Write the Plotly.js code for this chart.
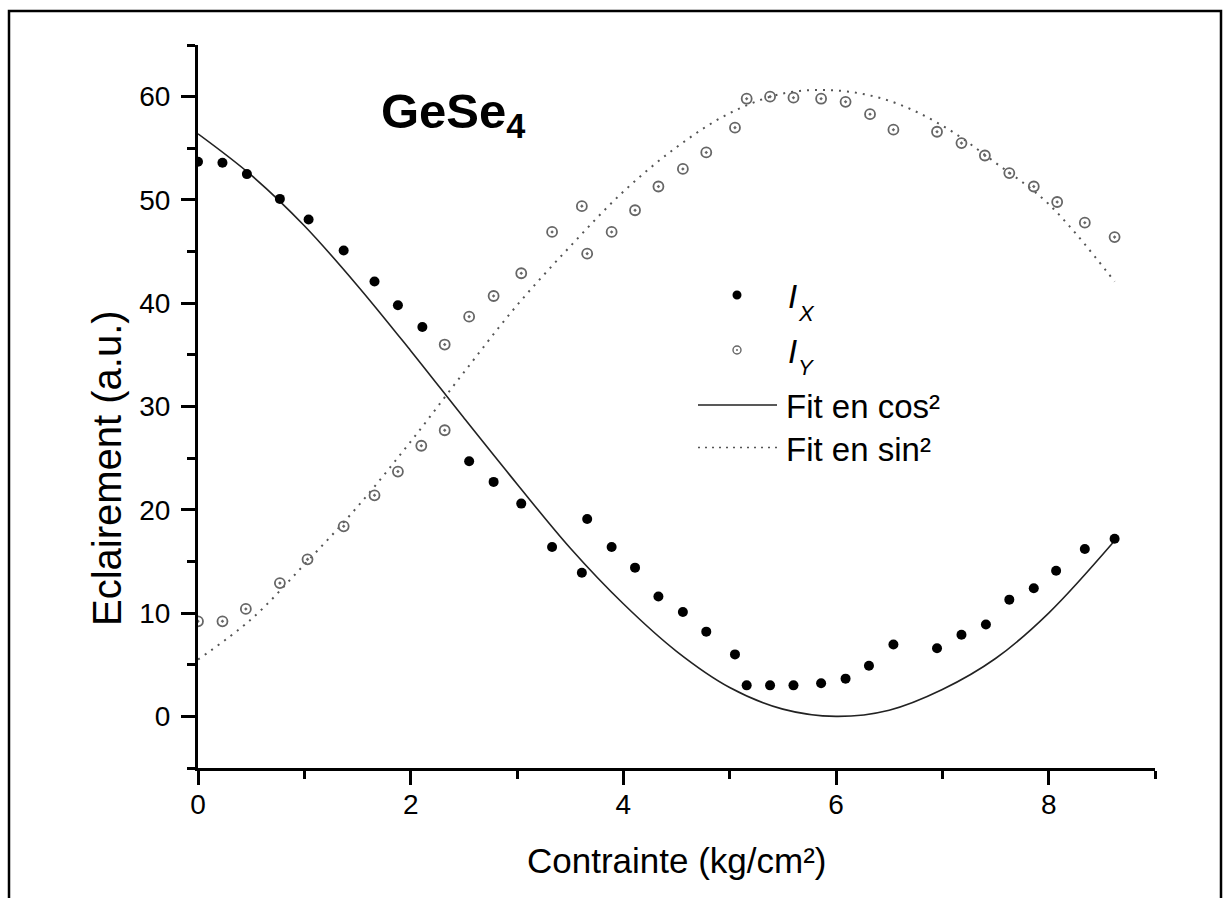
<!DOCTYPE html>
<html>
<head>
<meta charset="utf-8">
<script src="https://cdn.plot.ly/plotly-3.0.1.min.js"></script>
<style>
  html, body { margin: 0; padding: 0; background: #ffffff; }
  #chart { width: 1229px; height: 898px; }
</style>
</head>
<body>
<div id="chart"></div>
<script>
// ---- Data ----
const ixX = [0, 0.23, 0.46, 0.77, 1.04, 1.37, 1.66, 1.88, 2.11, 2.55, 2.78, 3.04, 3.33, 3.61, 3.66, 3.89, 4.11, 4.33, 4.56, 4.78, 5.05, 5.16, 5.38, 5.60, 5.86, 6.09, 6.31, 6.54, 6.95, 7.18, 7.41, 7.63, 7.86, 8.07, 8.34, 8.62];
const ixY = [53.7, 53.6, 52.5, 50.1, 48.1, 45.1, 42.1, 39.8, 37.7, 24.7, 22.7, 20.6, 16.4, 13.9, 19.1, 16.4, 14.4, 11.6, 10.1, 8.2, 6.0, 3.0, 3.0, 3.0, 3.2, 3.65, 4.9, 6.95, 6.6, 7.9, 8.9, 11.3, 12.4, 14.1, 16.2, 17.2];

const iyX = [0, 0.23, 0.45, 0.77, 1.03, 1.37, 1.66, 1.88, 2.10, 2.32, 2.32, 2.55, 2.78, 3.04, 3.33, 3.61, 3.66, 3.89, 4.11, 4.33, 4.56, 4.78, 5.05, 5.16, 5.38, 5.60, 5.86, 6.09, 6.32, 6.54, 6.95, 7.18, 7.40, 7.63, 7.86, 8.08, 8.34, 8.62];
const iyY = [9.2, 9.2, 10.4, 12.9, 15.2, 18.4, 21.4, 23.7, 26.2, 27.7, 36.0, 38.7, 40.7, 42.9, 46.9, 49.4, 44.8, 46.9, 49.0, 51.3, 53.0, 54.6, 57.0, 59.8, 60.0, 59.9, 59.8, 59.5, 58.3, 56.8, 56.6, 55.5, 54.3, 52.6, 51.3, 49.8, 47.8, 46.4];

const fitX   = [0, 0.5, 1, 1.5, 2, 2.5, 3, 3.5, 4, 4.5, 5, 5.5, 6, 6.5, 7, 7.5, 8, 8.62];
const cosFit = [56.4, 52.4, 47.5, 41.7, 35.4, 28.9, 22.5, 16.3, 10.9, 6.3, 2.8, 0.7, 0, 0.6, 2.6, 5.6, 10.0, 17.0];
const sinFit = [5.5, 9.4, 14.7, 20.3, 26.6, 33.3, 39.8, 45.5, 50.8, 55.1, 58.4, 60.3, 60.6, 59.6, 57.2, 53.6, 49.6, 42.1];

const xTickVals = [0, 2, 4, 6, 8];
const xTickText = ['0', '2', '4', '6', '8'];
const yTickVals = [0, 10, 20, 30, 40, 50, 60];
const yTickText = ['0', '10', '20', '30', '40', '50', '60'];

const chartTitle = 'GeSe<sub>4</sub>';
const xTitle = 'Contrainte (kg/cm²)';
const yTitle = 'Eclairement (a.u.)';
const legendNames = ['I', 'X', 'I', 'Y', 'Fit en cos²', 'Fit en sin²'];

// ---- Layout helpers (pixel -> paper) ----
const W = 1229, H = 898;
const M = { l: 198, r: 74, t: 45, b: 130 };
const PW = W - M.l - M.r, PH = H - M.t - M.b;
const px = v => (v - M.l) / PW;
const py = v => (H - M.b - v) / PH;
const FONT = 'Arial, "Liberation Sans", sans-serif';

const traces = [
  { x: fitX, y: cosFit, type: 'scatter', mode: 'lines', name: 'Fit en cos²',
    line: { color: '#222', width: 1.6, shape: 'spline', smoothing: 1 }, hoverinfo: 'skip' },
  { x: fitX, y: sinFit, type: 'scatter', mode: 'lines', name: 'Fit en sin²',
    line: { color: '#555', width: 2, shape: 'spline', smoothing: 1, dash: '2px,6px' }, hoverinfo: 'skip' },
  { x: ixX, y: ixY, type: 'scatter', mode: 'markers', name: 'Ix',
    marker: { symbol: 'circle', size: 10, color: '#000' } },
  { x: iyX, y: iyY, type: 'scatter', mode: 'markers', name: 'Iy',
    marker: { symbol: 'circle-open-dot', size: 10, color: '#666', line: { width: 1.8, color: '#666' } } }
];

const axisCommon = {
  showline: true, linewidth: 3, linecolor: '#000', mirror: false,
  ticks: 'outside', ticklen: 14, tickwidth: 3, tickcolor: '#000',
  showgrid: false, zeroline: false,
  tickfont: { family: FONT, size: 28, color: '#000' }
};

const layout = {
  width: W, height: H,
  margin: { l: M.l, r: M.r, t: M.t, b: M.b, pad: 0 },
  paper_bgcolor: '#fff', plot_bgcolor: '#fff',
  showlegend: false,
  xaxis: Object.assign({}, axisCommon, {
    range: [0, 9], tickmode: 'array', tickvals: xTickVals, ticktext: xTickText,
    ticklabelstandoff: -5,
    minor: { ticks: 'outside', ticklen: 8, tickwidth: 3, tickcolor: '#000', tickmode: 'array', tickvals: [1, 3, 5, 7, 9] }
  }),
  yaxis: Object.assign({}, axisCommon, {
    range: [-5, 65], tickmode: 'array', tickvals: yTickVals, ticktext: yTickText,
    ticklabelstandoff: 5,
    minor: { ticks: 'outside', ticklen: 8, tickwidth: 3, tickcolor: '#000', tickmode: 'array', tickvals: [-5, 5, 15, 25, 35, 45, 55, 65] }
  }),
  shapes: [
    // outer frame
    { type: 'rect', xref: 'paper', yref: 'paper', x0: px(9), x1: px(1221), y0: py(905), y1: py(11),
      line: { color: '#000', width: 2.5 }, fillcolor: 'rgba(0,0,0,0)', layer: 'above' },
    // legend symbols
    { type: 'circle', xref: 'paper', yref: 'paper', xsizemode: 'pixel', ysizemode: 'pixel',
      xanchor: px(737), yanchor: py(295), x0: -4.5, x1: 4.5, y0: -4.5, y1: 4.5,
      fillcolor: '#000', line: { width: 0 } },
    { type: 'circle', xref: 'paper', yref: 'paper', xsizemode: 'pixel', ysizemode: 'pixel',
      xanchor: px(737), yanchor: py(350), x0: -4, x1: 4, y0: -4, y1: 4,
      fillcolor: '#fff', line: { width: 1.4, color: '#666' } },
    { type: 'circle', xref: 'paper', yref: 'paper', xsizemode: 'pixel', ysizemode: 'pixel',
      xanchor: px(737), yanchor: py(350), x0: -1, x1: 1, y0: -1, y1: 1,
      fillcolor: '#666', line: { width: 0 } },
    { type: 'line', xref: 'paper', yref: 'paper', x0: px(698), x1: px(777), y0: py(405), y1: py(405),
      line: { color: '#222', width: 1.6 } },
    { type: 'line', xref: 'paper', yref: 'paper', x0: px(698), x1: px(777), y0: py(447.5), y1: py(447.5),
      line: { color: '#555', width: 1.6, dash: '2px,5px' } }
  ],
  annotations: [
    { text: '<b>' + chartTitle + '</b>', xref: 'paper', yref: 'paper', x: px(453), y: py(114),
      xanchor: 'center', yanchor: 'middle', showarrow: false, font: { family: FONT, size: 49, color: '#000' } },
    { text: xTitle, xref: 'paper', yref: 'paper', x: px(677), y: py(860), xanchor: 'center', yanchor: 'middle',
      showarrow: false, font: { family: FONT, size: 35, color: '#000' } },
    { text: yTitle, xref: 'paper', yref: 'paper', x: px(107), y: py(468), xanchor: 'center', yanchor: 'middle',
      textangle: -90, showarrow: false, font: { family: FONT, size: 40, color: '#000' } },
    { text: '<i>' + legendNames[0] + '</i>', xref: 'paper', yref: 'paper', x: px(786), y: py(296), xanchor: 'left', yanchor: 'middle',
      showarrow: false, font: { family: FONT, size: 33, color: '#000' } },
    { text: '<i>' + legendNames[1] + '</i>', xref: 'paper', yref: 'paper', x: px(796), y: py(313), xanchor: 'left', yanchor: 'middle',
      showarrow: false, font: { family: FONT, size: 22, color: '#000' } },
    { text: '<i>' + legendNames[2] + '</i>', xref: 'paper', yref: 'paper', x: px(786), y: py(351), xanchor: 'left', yanchor: 'middle',
      showarrow: false, font: { family: FONT, size: 33, color: '#000' } },
    { text: '<i>' + legendNames[3] + '</i>', xref: 'paper', yref: 'paper', x: px(796), y: py(367), xanchor: 'left', yanchor: 'middle',
      showarrow: false, font: { family: FONT, size: 22, color: '#000' } },
    { text: legendNames[4], xref: 'paper', yref: 'paper', x: px(784), y: py(406), xanchor: 'left', yanchor: 'middle',
      showarrow: false, font: { family: FONT, size: 33, color: '#000' } },
    { text: legendNames[5], xref: 'paper', yref: 'paper', x: px(784), y: py(449), xanchor: 'left', yanchor: 'middle',
      showarrow: false, font: { family: FONT, size: 33, color: '#000' } }
  ]
};

Plotly.newPlot('chart', traces, layout, { staticPlot: true, displayModeBar: false });
</script>
</body>
</html>
